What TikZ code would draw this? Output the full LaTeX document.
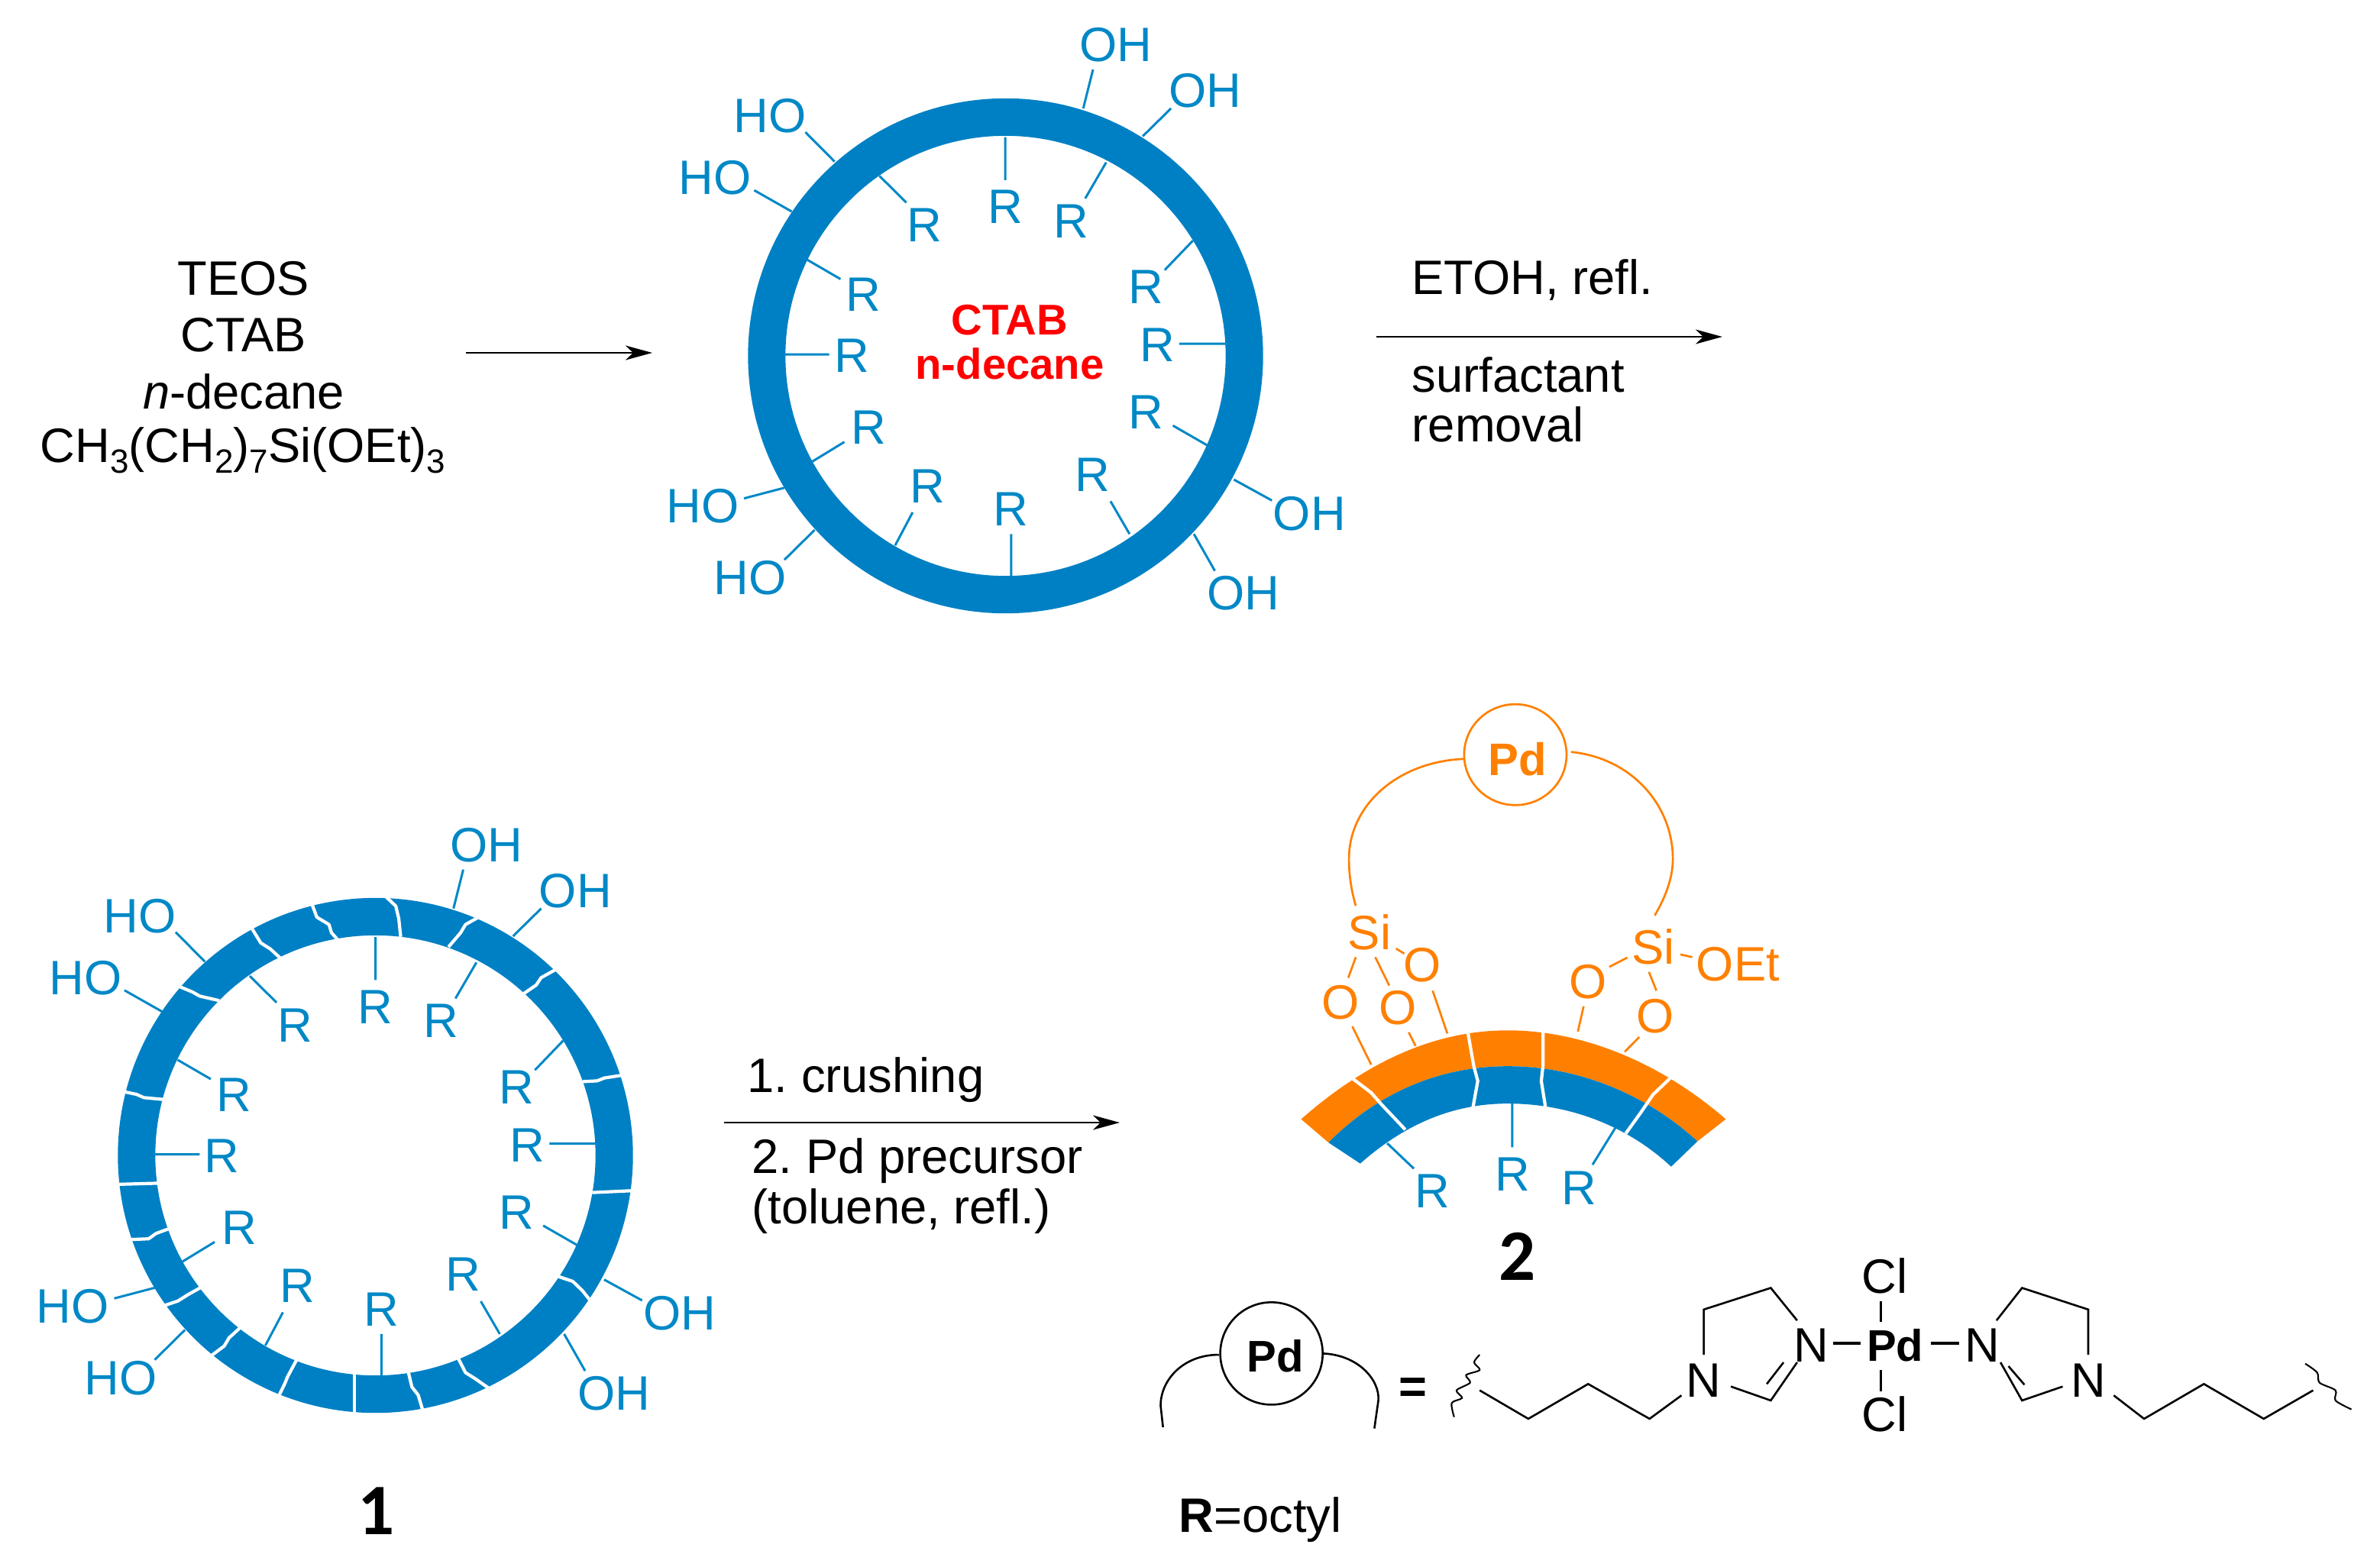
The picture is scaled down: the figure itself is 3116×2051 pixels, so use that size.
\documentclass[tikz,border=0pt]{standalone}
\usepackage{fontspec}
\setmainfont{Liberation Sans}
\newfontfamily\labelfont{Carlito}
\usetikzlibrary{arrows.meta}
\definecolor{ringblue}{HTML}{0080C4}
\definecolor{txtblue}{HTML}{0088C6}
\definecolor{chemorange}{HTML}{FF8000}
\newcommand{\subx}[1]{\raisebox{-0.22em}{\fontsize{12.5}{12.5}\selectfont #1}}
\frenchspacing
\tikzset{
  txt/.style={inner sep=0pt,font=\fontsize{18}{18}\selectfont},
  bt/.style={txt,text=txtblue},
  ot/.style={txt,text=chemorange},
  bb/.style={txtblue,line width=0.03cm},
  ob/.style={chemorange,line width=0.027cm},
  kb/.style={black,line width=0.026cm},
  crack/.style={white,line width=0.042cm,line join=round},
  rxn/.style={black,line width=0.024cm,-{Stealth[length=0.35cm,width=0.19cm,inset=0.1cm]}},
  z1/.style={x=0.006378cm,y=-0.005356cm},
  z3/.style={x=0.004464cm,y=-0.005102cm},
  z4/.style={x=0.010438cm,y=-0.003333cm},
}
\newcommand{\ligands}[1]{%
  \node[bt] (#1oa) at (1035,110) {OH};
  \node[bt] (#1ob) at (1218,222) {OH};
  \node[bt] (#1oc) at (325,283) {HO};
  \node[bt] (#1od) at (213,435) {HO};
  \node[bt] (#1oe) at (187,1237) {HO};
  \node[bt] (#1of) at (285,1412) {HO};
  \node[bt] (#1og) at (1432,1255) {OH};
  \node[bt] (#1oh) at (1297,1450) {OH};
  \node[bt] (#1ra) at (643,550) {R};
  \node[bt] (#1rb) at (808,505) {R};
  \node[bt] (#1rc) at (943,540) {R};
  \node[bt] (#1rd) at (1097,702) {R};
  \node[bt] (#1re) at (517,720) {R};
  \node[bt] (#1rf) at (1120,843) {R};
  \node[bt] (#1rg) at (493,870) {R};
  \node[bt] (#1rh) at (1097,1008) {R};
  \node[bt] (#1ri) at (528,1045) {R};
  \node[bt] (#1rj) at (987,1160) {R};
  \node[bt] (#1rk) at (648,1188) {R};
  \node[bt] (#1rl) at (820,1245) {R};
  \draw[bb] (988,170)--(968,265) (1148,265)--(1090,333) (398,323)--(458,395) (293,465)--(370,517);
  \draw[bb] (550,430)--(605,495) (808,335)--(808,440) (1015,397)--(972,485) (1193,588)--(1135,660);
  \draw[bb] (402,635)--(470,682) (1262,840)--(1165,840) (356,866)--(447,866) (1222,1088)--(1152,1040);
  \draw[bb] (412,1128)--(478,1080) (1063,1305)--(1024,1225) (582,1333)--(618,1252) (820,1408)--(820,1305);
  \draw[bb] (355,1192)--(272,1218) (417,1295)--(355,1368) (1277,1172)--(1355,1223) (1195,1305)--(1238,1395);
}
\begin{document}
\begin{tikzpicture}[x=0.01cm,y=-0.01cm]
\useasboundingbox (0,0) rectangle (3116,2051);

% reagents
\node[txt] (teos) at (319,365) {TEOS};
\node[txt] (ctab) at (319,439) {CTAB};
\node[txt] (dec) at (319,513) {\textit{n}-decane};
\node[txt] (prec) at (318,590) {CH\subx{3}(CH\subx{2})\subx{7}Si(OEt)\subx{3}};
\coordinate (a1s) at (610,462); \coordinate (a1e) at (854,462);
\draw[rxn] (a1s) -- (a1e);

% top ring
\draw[ringblue,line width=0.49cm] (1316.5,466) circle (3.125cm);
\begin{scope}[shift={(8cm,0cm)},z1]
  \ligands{t}
\end{scope}
\node[txt,text=red,font=\fontsize{16}{16}\selectfont\bfseries] (tc) at (1322,419) {CTAB};
\node[txt,text=red,font=\fontsize{16}{16}\selectfont\bfseries] (td) at (1322,476) {n-decane};

% arrow 2
\coordinate (a2s) at (1802,441); \coordinate (a2e) at (2255,441);
\draw[rxn] (a2s) -- (a2e);
\node[txt,anchor=west] (et) at (1848,367) {ETOH, refl.};
\node[txt,anchor=west] (su) at (1848,491) {surfactant};
\node[txt,anchor=west] (re) at (1848,556) {removal};

% ring 1
\draw[ringblue,line width=0.49cm] (491.5,1513) circle (3.125cm);
\begin{scope}[shift={(0cm,-10.6cm)},z1]
  \draw[crack] (640,230)--(650,262)--(675,280)--(680,300)--(695,320);
  \draw[crack] (790,210)--(812,235)--(818,265)--(822,310);
  \draw[crack] (985,260)--(955,280)--(945,300)--(920,335);
  \draw[crack] (1140,390)--(1110,410)--(1100,428)--(1073,450);
  \draw[crack] (1278,648)--(1240,655)--(1225,662)--(1195,664);
  \draw[crack] (1305,930)--(1215,935);
  \draw[crack] (1145,1140)--(1175,1152)--(1195,1175)--(1215,1205);
  \draw[crack] (940,1340)--(955,1375)--(975,1390)--(1005,1415);
  \draw[crack] (838,1375)--(845,1410)--(858,1430)--(868,1470);
  \draw[crack] (727,1375)--(727,1480);
  \draw[crack] (608,1345)--(590,1385)--(585,1400)--(572,1432);
  \draw[crack] (493,1265)--(470,1290)--(460,1310)--(432,1335);
  \draw[crack] (415,1165)--(385,1185)--(365,1200)--(335,1212);
  \draw[crack] (350,1022)--(320,1035)--(305,1048)--(265,1050);
  \draw[crack] (330,912)--(240,915);
  \draw[crack] (340,708)--(295,703)--(280,695)--(252,688);
  \draw[crack] (450,466)--(410,455)--(395,445)--(365,430);
  \draw[crack] (517,290)--(535,325)--(555,340)--(575,362);
\end{scope}
\begin{scope}[shift={(-0.24cm,-10.47cm)},z1]
  \ligands{u}
\end{scope}
\node[txt,font=\fontsize{27}{27}\selectfont\labelfont\bfseries] (n1) at (493,1979) {1};

% arrow 3
\coordinate (a3s) at (948,1470); \coordinate (a3e) at (1466,1470);
\draw[rxn] (a3s) -- (a3e);
\node[txt,anchor=west] (l1) at (978,1414) {1. crushing};
\node[txt,anchor=west] (l2) at (984,1520) {2. Pd precursor};
\node[txt,anchor=west] (l3) at (984,1586) {(toluene, refl.)};

% fragment 2
\begin{scope}[shift={(16.6cm,-9cm)},z3]
  \fill[chemorange] (95,1108) .. controls (300,950) and (500,880) .. (700,880) .. controls (900,880) and (1130,950) .. (1338,1108) -- (1255,1165) .. controls (1100,1040) and (900,972) .. (700,972) .. controls (500,972) and (320,1040) .. (175,1168) -- cycle;
  \fill[ringblue] (175,1168) .. controls (320,1040) and (500,972) .. (700,972) .. controls (900,972) and (1100,1040) .. (1255,1165) -- (1178,1230) .. controls (1050,1125) and (880,1068) .. (700,1068) .. controls (540,1068) and (400,1120) .. (268,1222) -- cycle;
  \draw[crack] (240,1000)--(300,1040)--(330,1070)--(400,1135);
  \draw[crack] (583,885)--(600,970)--(612,1010)--(598,1078);
  \draw[crack] (803,875)--(803,970)--(798,1010)--(810,1076);
  \draw[crack] (1182,997)--(1125,1045)--(1090,1090)--(1045,1145);
  \draw[bb] (347,1170)--(425,1235) (713,1068)--(713,1180) (1015,1130)--(948,1225);
  \node[bt] (fr1) at (480,1293) {R};
  \node[bt] (fr2) at (715,1250) {R};
  \node[bt] (fr3) at (908,1285) {R};
  \draw[ob] (245,870)--(300,968) (410,885)--(430,920) (480,778)--(523,888) (255,692)--(233,745) (312,692)--(353,765) (373,670)--(397,683);
  \draw[ob] (922,818)--(905,883) (1085,897)--(1042,935) (997,717)--(1050,693) (1113,730)--(1135,778) (1205,685)--(1240,692);
  \node[ot] (si1) at (295,628) {Si};
  \node[ot] (si2) at (1125,665) {Si};
  \node[ot] (oa) at (210,808) {O};
  \node[ot] (ob) at (378,822) {O};
  \node[ot] (oc) at (450,713) {O};
  \node[ot] (od) at (935,755) {O};
  \node[ot] (oe) at (1132,843) {O};
  \node[ot,anchor=west] (oet) at (1250,710) {OEt};
  \draw[ob] (722,172) ellipse (0.67cm and 0.66cm);
  \node[txt,text=chemorange,font=\fontsize{17}{17}\selectfont\bfseries] (opd) at (728,183) {Pd};
  \draw[ob] (570,183) .. controls (380,190) and (235,300) .. (235,440) .. controls (235,490) and (245,530) .. (255,560);
  \draw[ob] (885,165) .. controls (1060,180) and (1183,300) .. (1183,440) .. controls (1183,490) and (1160,540) .. (1130,585);
\end{scope}
\node[txt,font=\fontsize{27}{27}\selectfont\labelfont\bfseries] (n2) at (1987,1645) {2};

% ligand definition
\begin{scope}[shift={(14.8cm,-16.2cm)},z4]
  \draw[kb] (176,455) ellipse (0.67cm and 0.67cm);
  \node[txt,font=\fontsize{16.5}{16.5}\selectfont\bfseries] (kpd) at (181,465) {Pd};
  \draw[kb] (110,460) .. controls (65,460) and (37,560) .. (37,660) -- (40,745);
  \draw[kb] (240,455) .. controls (285,460) and (312,560) .. (310,640) -- (305,750);
  \node[txt,font=\fontsize{18}{18}\selectfont\bfseries] (eq) at (353,600) {=};
  \draw[kb,line width=0.021cm] plot[smooth] coordinates {(437,460) (430,490) (437,520) (420,540) (425,570) (408,600) (415,630) (402,650) (405,705)};
  \draw[kb] (437,600)--(498,712)--(573,575)--(650,712)--(690,620);
  \node[txt] (n_a) at (718,560) {N};
  \node[txt] (n_b) at (853,423) {N};
  \node[txt] (n_c) at (1067,423) {N};
  \node[txt] (n_d) at (1200,560) {N};
  \node[txt,font=\fontsize{16.5}{16.5}\selectfont\bfseries] (cpd) at (958,422) {Pd};
  \node[txt] (cla) at (945,150) {Cl};
  \node[txt] (clb) at (945,695) {Cl};
  \draw[kb] (718,460)--(718,282)--(802,197)--(835,325);
  \draw[kb] (752,585)--(802,640)--(835,490) (797,575)--(818,490);
  \draw[kb] (1085,325)--(1117,197)--(1200,282)--(1200,460);
  \draw[kb] (1168,585)--(1117,640)--(1090,490) (1120,578)--(1100,505);
  \draw[kb,line width=0.035cm] (880,415)--(915,415) (1003,415)--(1038,415);
  \draw[kb] (940,250)--(940,330) (940,520)--(940,605);
  \draw[kb] (1232,620)--(1270,712)--(1345,575)--(1420,712)--(1482,600);
  \draw[kb,line width=0.021cm] plot[smooth] coordinates {(1472,495) (1487,530) (1490,570) (1510,600) (1510,640) (1530,675)};
\end{scope}
\node[txt,anchor=west] (ro) at (1543,1990) {\textbf{R}=octyl};
\end{tikzpicture}
\end{document}
